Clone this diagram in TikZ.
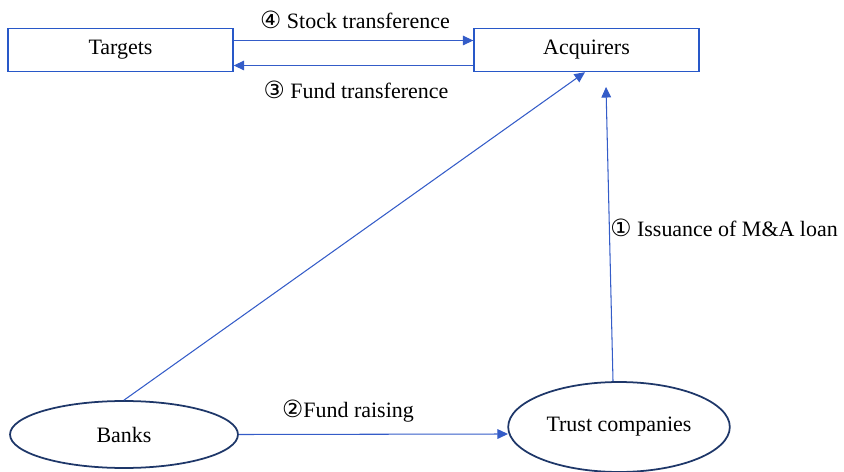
\documentclass[tikz,border=0pt]{standalone}
\usepackage{fontspec}
\setmainfont{Liberation Serif}
\newfontfamily\circfont{DejaVu Sans}
\usetikzlibrary{shapes.geometric,arrows.meta}
\definecolor{flowblue}{RGB}{52,92,200}
\definecolor{boxblue}{RGB}{40,88,200}
\definecolor{ovalnavy}{RGB}{30,55,105}
\newcommand{\cnum}[1]{{\circfont\fontsize{13.5}{15}\selectfont #1}}
\tikzset{
  party/.style={draw=boxblue, line width=0.8pt, minimum width=4.5cm, minimum height=0.86cm},
  lender/.style={ellipse, draw=ovalnavy, line width=1pt},
  flow/.style={draw=flowblue, line width=0.6pt, -{Triangle[length=6pt,width=5.5pt]}},
}
\begin{document}
\begin{tikzpicture}[x=0.02cm, y=-0.02cm, font=\fontsize{12.5}{15}\selectfont]
  \useasboundingbox (0,0) rectangle (844,472);
  \node[party] (tgt) at (120.5, 50) {Targets};
  \node[party] (acq) at (586.5, 50) {Acquirers};
  \node[lender, minimum width=4.56cm, minimum height=1.34cm] (bank) at (124, 434.5) {Banks};
  \node[lender, minimum width=4.06cm, minimum height=1.8cm] (trust) at (619, 427) {Trust companies};
  \coordinate (raiseTip) at (508, 434);
  \coordinate (loanTip) at (606, 87);
  \draw[flow] ([yshift=0.19cm]tgt.east) -- ([yshift=0.19cm]acq.west);
  \draw[flow] ([yshift=-0.31cm]acq.west) -- ([yshift=-0.31cm]tgt.east);
  \draw[flow] (bank.north) -- ([xshift=-0.03cm]acq.south);
  \draw[flow] (bank.east) -- (raiseTip);
  \draw[flow] ([xshift=-0.12cm]trust.north) -- (loanTip);
  \node (l4) at (355, 20) {\cnum{④} Stock transference};
  \node (l3) at (356, 90) {\cnum{③} Fund transference};
  \node (l2) at (348, 411) {\cnum{②}Fund raising};
  \node[anchor=west, inner sep=0pt] (l1) at (610, 228) {\cnum{①} Issuance of M\&A loan};
\end{tikzpicture}
\end{document}
